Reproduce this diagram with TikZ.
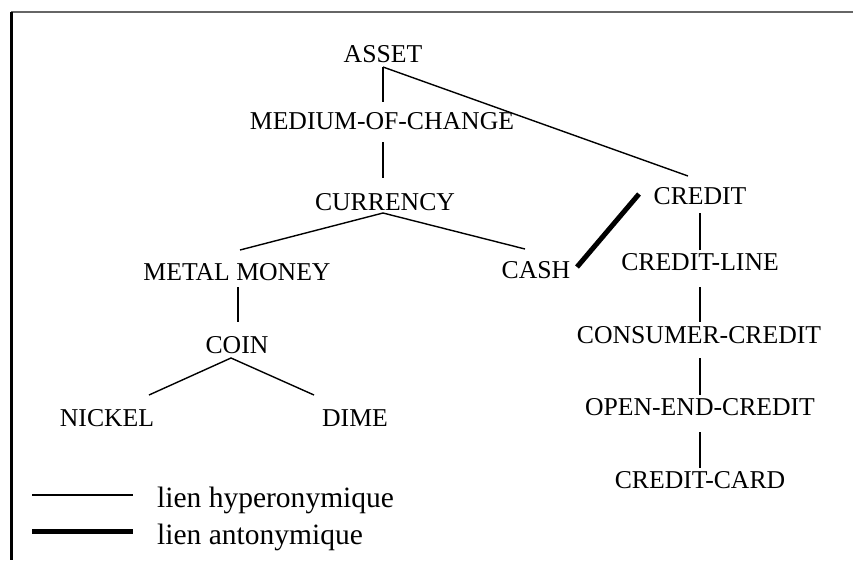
\documentclass[tikz,border=0pt]{standalone}
\usepackage{fontspec}
\setmainfont{Liberation Serif}
\usetikzlibrary{calc}
\tikzset{
  term/.style={anchor=base, inner sep=0pt, font=\fontsize{25.7}{30}\selectfont},
  legtext/.style={anchor=base west, inner sep=0pt, font=\fontsize{29.5}{34}\selectfont},
  hyper/.style={line width=1.4pt, black},
  anto/.style={line width=5pt, black},
  frame/.style={line width=3pt, black},
  frametop/.style={line width=1.2pt, black!60}
}
\begin{document}
\begin{tikzpicture}[x=1pt,y=-1pt]
\useasboundingbox (0,0) rectangle (853,560);
% frame
\coordinate (fl) at (11,560);
\coordinate (ftl) at (11,12);
\coordinate (ftr) at (853,12);
\draw[frametop] (ftl) -- (ftr);
\draw[frame] (ftl) -- (fl);
% terms
\node[term] (asset) at (383,62) {ASSET};
\node[term] (moc) at (382,129) {MEDIUM-OF-CHANGE};
\node[term] (currency) at (385,210) {CURRENCY};
\node[term] (credit) at (700,204) {CREDIT};
\node[term] (mm) at (237,280) {METAL MONEY};
\node[term] (cash) at (536,278) {CASH};
\node[term] (cline) at (700,270) {CREDIT-LINE};
\node[term] (coin) at (237,353) {COIN};
\node[term] (cc) at (699,343) {CONSUMER-CREDIT};
\node[term] (nickel) at (107,426) {NICKEL};
\node[term] (dime) at (355,426) {DIME};
\node[term] (oec) at (700,415) {OPEN-END-CREDIT};
\node[term] (ccard) at (700,488) {CREDIT-CARD};
% hyperonymic links
\draw[hyper] ($(asset.base)+(0,5)$) -- ($(moc.base)+(1,-27)$);
\draw[hyper] ($(asset.base)+(0,5)$) -- ($(credit.base)+(-12,-28)$);
\draw[hyper] ($(moc.base)+(1,13)$) -- ($(currency.base)+(-2,-32)$);
\draw[hyper] ($(mm.base)+(3,-30)$) -- ($(currency.base)+(-2,3)$) -- ($(cash.base)+(-11,-29)$);
\draw[hyper] ($(credit.base)+(0,9)$) -- ($(cline.base)+(0,-20)$);
\draw[hyper] ($(mm.base)+(1,7)$) -- ($(coin.base)+(1,-31)$);
\draw[hyper] ($(nickel.base)+(42,-31)$) -- ($(coin.base)+(-6,5)$) -- ($(dime.base)+(-41,-31)$);
\draw[hyper] ($(cline.base)+(0,17)$) -- ($(cc.base)+(1,-21)$);
\draw[hyper] ($(cc.base)+(1,15)$) -- ($(oec.base)+(0,-20)$);
\draw[hyper] ($(oec.base)+(0,17)$) -- ($(ccard.base)+(0,-20)$);
% antonymic link
\draw[anto] ($(cash.base)+(41,-11)$) -- ($(credit.base)+(-61,-10)$);
% legend
\coordinate (l1a) at (32,495);
\coordinate (l1b) at (133,495);
\coordinate (l2a) at (32,531);
\coordinate (l2b) at (133,531);
\draw[hyper] (l1a) -- (l1b);
\draw[anto] (l2a) -- (l2b);
\node[legtext] (lh) at (157,507) {lien hyperonymique};
\node[legtext] (la) at (157,544) {lien antonymique};
\end{tikzpicture}
\end{document}
